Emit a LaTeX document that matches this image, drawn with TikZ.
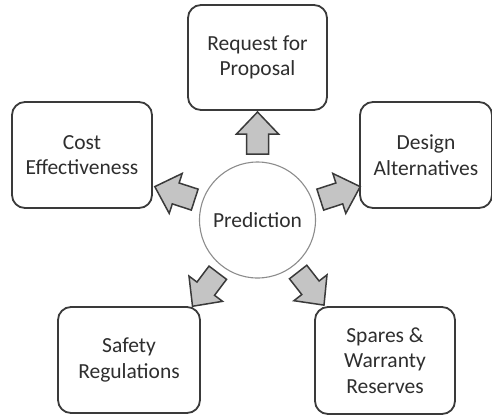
\documentclass[tikz,border=0pt]{standalone}
\usepackage{fontspec}
\setmainfont{Carlito}
\usetikzlibrary{calc}
\definecolor{edge}{HTML}{3A3A3A}
\definecolor{txt}{HTML}{2E2E2E}
\definecolor{ring}{HTML}{8C8C8C}
\definecolor{arrowfill}{HTML}{C4C4C4}
\begin{document}
\begin{tikzpicture}[x=1pt,y=-1pt,
  box/.style={draw=edge, line width=1.8pt, rounded corners=13pt, fill=white,
    align=center, text=txt, inner sep=0pt,
    font=\fontsize{21.5}{25.5}\selectfont},
  hub/.style={circle, draw=ring, line width=1.1pt, minimum size=116pt,
    inner sep=0pt, text=txt, font=\fontsize{21.5}{25.5}\selectfont},
  blockarrow/.pic={
    \draw[fill=arrowfill, draw=edge, line width=1.5pt, line join=miter]
      (0pt,-11pt) -- (20pt,-11pt) -- (20pt,-21pt) -- (42pt,0pt)
      -- (20pt,21pt) -- (20pt,11pt) -- (0pt,11pt) -- cycle;
  }]
  \useasboundingbox (0,0) rectangle (492,416);

  % central hub
  \node[hub] (pred) at (257.5,220) {Prediction};

  % surrounding topics
  \node[box, minimum width=139pt, minimum height=105pt] (rfp)    at (257.5,57.5) {Request for\\Proposal};
  \node[box, minimum width=140pt, minimum height=106pt] (cost)   at (82,155)     {Cost\\Effectiveness};
  \node[box, minimum width=132pt, minimum height=106pt] (design) at (426,155)    {Design\\Alternatives};
  \node[box, minimum width=142pt, minimum height=106pt] (safety) at (129,360)    {Safety\\Regulations};
  \node[box, minimum width=140pt, minimum height=107pt] (spares) at (385,360.5)  {Spares \&\\Warranty\\Reserves};

  % block arrows from the hub outwards
  \pic[rotate=90]  (a-rfp)    at ($(pred.center)+(90:66pt)$)  {blockarrow};
  \pic[rotate=162] (a-cost)   at ($(pred.center)+(162:66pt)$) {blockarrow};
  \pic[rotate=18]  (a-design) at ($(pred.center)+(18:66pt)$)  {blockarrow};
  \pic[rotate=233] (a-safety) at ($(pred.center)+(233:66pt)$) {blockarrow};
  \pic[rotate=-52] (a-spares) at ($(pred.center)+(-52:66pt)$) {blockarrow};
\end{tikzpicture}
\end{document}
